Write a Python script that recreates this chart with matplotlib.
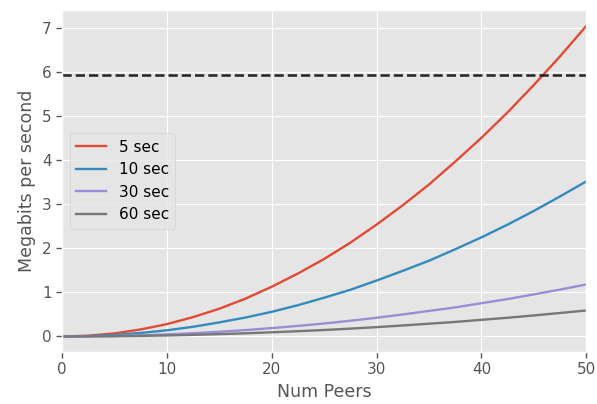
import numpy as np
import matplotlib
matplotlib.use("Agg")
import matplotlib.pyplot as plt

plt.style.use("ggplot")
plt.rcParams["xtick.labelsize"] = 11
plt.rcParams["ytick.labelsize"] = 11
plt.rcParams["axes.labelsize"] = 12.5
plt.rcParams["legend.fontsize"] = 11

# values
num_peers = [0, 2.5, 5, 7.5, 10, 12.5, 15, 17.5, 20, 22.5, 25, 27.5, 30,
             32.5, 35, 37.5, 40, 42.5, 45, 47.5, 50]
mbps_5 = [0, 0.018, 0.07, 0.16, 0.28, 0.44, 0.63, 0.86, 1.13, 1.43, 1.76,
          2.13, 2.54, 2.98, 3.45, 3.97, 4.51, 5.09, 5.71, 6.36, 7.05]
mbps_10 = [0, 0.009, 0.035, 0.08, 0.14, 0.22, 0.32, 0.43, 0.56, 0.71, 0.88,
           1.06, 1.27, 1.49, 1.72, 1.98, 2.25, 2.54, 2.85, 3.18, 3.52]
mbps_30 = [0, 0.003, 0.012, 0.027, 0.047, 0.074, 0.106, 0.145, 0.19, 0.24,
           0.295, 0.357, 0.425, 0.5, 0.58, 0.66, 0.755, 0.85, 0.955, 1.065, 1.18]
mbps_60 = [0, 0.0015, 0.006, 0.013, 0.023, 0.037, 0.053, 0.072, 0.095, 0.12,
           0.147, 0.178, 0.212, 0.25, 0.29, 0.33, 0.378, 0.425, 0.478, 0.533, 0.59]
limit = 5.93

fig = plt.figure(figsize=(5.97, 4.04), dpi=100)
ax = fig.add_axes([0.104, 0.129, 0.878, 0.846])

ax.plot(num_peers, mbps_5, label="5 sec", linewidth=1.7)
ax.plot(num_peers, mbps_10, label="10 sec", linewidth=1.7)
ax.plot(num_peers, mbps_30, label="30 sec", color="#988ED5", linewidth=1.7)
ax.plot(num_peers, mbps_60, label="60 sec", color="#777777", linewidth=1.7)
ax.axhline(limit, color="#222222", linestyle="--", linewidth=1.8)

ax.set_xlim(0, 50)
ax.set_ylim(-0.35, 7.41)
ax.set_xlabel("Num Peers")
ax.set_ylabel("Megabits per second")
ax.tick_params(length=4, width=1, color="#555555", direction="out")
ax.legend(loc="center left")

fig.savefig("out.png", dpi=100)
